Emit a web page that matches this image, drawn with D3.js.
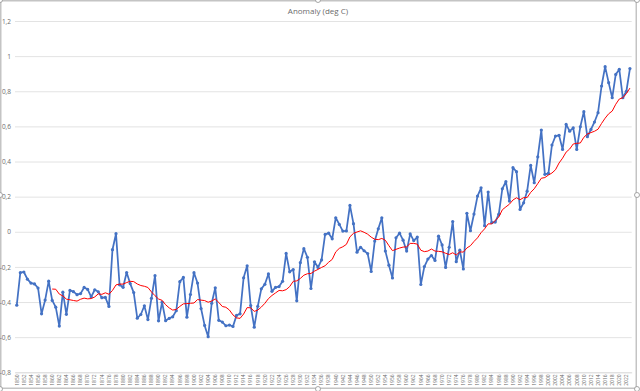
<!DOCTYPE html>
<html>
<head>
<meta charset="utf-8">
<script src="https://cdn.jsdelivr.net/npm/d3@7"></script>
<style>
  body { margin: 0; background: #fff; }
  svg text { font-family: "Open Sans", "Liberation Sans", sans-serif; fill: #6b6b6b; }
</style>
</head>
<body>
<div id="chart"></div>
<script>
// annual anomaly, deg C, 1850 .. 2023
var firstYear = 1850;
var anomaly = [
  -0.418, -0.233, -0.229, -0.270, -0.292, -0.297, -0.320, -0.467, -0.389, -0.281, // 1850
  -0.391, -0.429, -0.537, -0.344, -0.470, -0.334, -0.341, -0.358, -0.352, -0.317, // 1860
  -0.328, -0.371, -0.330, -0.342, -0.375, -0.374, -0.425, -0.102, -0.011, -0.302, // 1870
  -0.316, -0.232, -0.295, -0.346, -0.492, -0.471, -0.421, -0.500, -0.379, -0.250, // 1880
  -0.507, -0.401, -0.506, -0.493, -0.484, -0.449, -0.284, -0.260, -0.486, -0.357, // 1890
  -0.233, -0.292, -0.437, -0.533, -0.597, -0.407, -0.319, -0.504, -0.514, -0.535, // 1900
  -0.531, -0.539, -0.476, -0.467, -0.262, -0.194, -0.420, -0.543, -0.424, -0.325, // 1910
  -0.299, -0.240, -0.339, -0.317, -0.312, -0.282, -0.123, -0.228, -0.215, -0.393, // 1920
  -0.176, -0.096, -0.145, -0.323, -0.171, -0.203, -0.160, -0.015, -0.008, -0.040, // 1930
   0.080,  0.042,  0.004,  0.005,  0.150,  0.046, -0.116, -0.088, -0.108, -0.124, // 1940
  -0.226, -0.053,  0.017,  0.080, -0.110, -0.190, -0.263, -0.034, -0.008, -0.048, // 1950
  -0.110, -0.012, -0.050, -0.030, -0.300, -0.198, -0.155, -0.135, -0.163, -0.025, // 1960
  -0.075, -0.203, -0.088,  0.058, -0.170, -0.105, -0.212,  0.105,  0.006,  0.101, // 1970
   0.203,  0.250,  0.035,  0.226,  0.052,  0.055,  0.100,  0.245,  0.285,  0.175, // 1980
   0.365,  0.342,  0.127,  0.165,  0.231,  0.378,  0.279,  0.427,  0.579,  0.327, // 1990
   0.332,  0.494,  0.545,  0.549,  0.469,  0.611,  0.573,  0.592,  0.469,  0.598, // 2000
   0.684,  0.541,  0.583,  0.625,  0.678,  0.830,  0.940,  0.849,  0.763,  0.896, // 2010
   0.925,  0.763,  0.800,  0.929                                                  // 2020
];
var years = anomaly.map(function(d, i) { return firstYear + i; });

// every other year gets a label, like the original axis
var xTickYears = years.filter(function(d, i) { return i % 2 === 0; });
var yTicks = [-0.8, -0.6, -0.4, -0.2, 0, 0.2, 0.4, 0.6, 0.8, 1, 1.2];

// moving average trendline (period 11, trailing), as in the spreadsheet
var maPeriod = 11;

var pwidth = 640, pheight = 391;
var plot = {left: 15, right: 631.7, top: 21, bottom: 372.3};

var svg = d3.select("#chart").append("svg")
    .attr("width", pwidth)
    .attr("height", pheight);

// chart area frame
svg.append("rect")
    .attr("x", 0.75).attr("y", 0.75)
    .attr("width", 635.5).attr("height", 387.5)
    .attr("fill", "#fff")
    .attr("stroke", "#c4c4c4")
    .attr("stroke-width", 1.5);

var xScale = d3.scaleBand()
    .domain(years)
    .range([plot.left, plot.right]);

var yScale = d3.scaleLinear()
    .domain([-0.8, 1.2])
    .range([plot.bottom, plot.top]);

function xPos(year) { return xScale(year) + xScale.bandwidth() / 2; }

// y axis with gridlines
var yAxis = svg.append("g")
    .attr("transform", "translate(" + plot.left + ",0)")
    .call(d3.axisLeft(yScale)
        .tickValues(yTicks)
        .tickSize(-(plot.right - plot.left))
        .tickPadding(4)
        .tickFormat(function(d) { return String(d).replace(".", ","); }));
yAxis.select(".domain").remove();
yAxis.selectAll(".tick line").attr("stroke", "#d9d9d9").attr("stroke-width", 0.75);
yAxis.selectAll(".tick text").attr("font-size", "6.5px");

// x axis, rotated year labels
var xAxis = svg.append("g")
    .attr("transform", "translate(0," + plot.bottom + ")")
    .call(d3.axisBottom(xScale).tickValues(xTickYears).tickSize(0));
xAxis.select(".domain").attr("stroke", "#d9d9d9").attr("stroke-width", 0.75);
xAxis.selectAll(".tick text")
    .attr("font-size", "5px")
    .attr("text-anchor", "end")
    .attr("transform", "rotate(-90)")
    .attr("x", -2)
    .attr("y", 0)
    .attr("dy", "0.35em");

// title
svg.append("text")
    .attr("x", 318)
    .attr("y", 14)
    .attr("text-anchor", "middle")
    .attr("font-size", "8px")
    .text("Anomaly (deg C)");

// series
var dataset = anomaly.map(function(d, i) { return {year: years[i], y: d}; });

var line = d3.line()
    .x(function(d) { return xPos(d.year); })
    .y(function(d) { return yScale(d.y); });

svg.append("path")
    .datum(dataset)
    .attr("fill", "none")
    .attr("stroke", "#4472c4")
    .attr("stroke-width", 1.75)
    .attr("stroke-linejoin", "round")
    .attr("d", line);

svg.append("g").selectAll("circle")
    .data(dataset)
    .join("circle")
    .attr("cx", function(d) { return xPos(d.year); })
    .attr("cy", function(d) { return yScale(d.y); })
    .attr("r", 1.6)
    .attr("fill", "#4472c4");

// trendline
var trend = [];
for (var i = maPeriod - 1; i < anomaly.length; i++) {
    trend.push({year: years[i], y: d3.mean(anomaly.slice(i - maPeriod + 1, i + 1))});
}
svg.append("path")
    .datum(trend)
    .attr("fill", "none")
    .attr("stroke", "#ff0000")
    .attr("stroke-width", 1)
    .attr("d", line);

// selection handles of the chart area
var handles = [[0, 0], [318, 0], [637, 0], [0, 195], [637, 195], [0, 389], [318, 389], [637, 389]];
svg.append("g").selectAll("circle")
    .data(handles)
    .join("circle")
    .attr("cx", function(d) { return d[0]; })
    .attr("cy", function(d) { return d[1]; })
    .attr("r", 2.5)
    .attr("fill", "#fff")
    .attr("stroke", "#8c8c8c")
    .attr("stroke-width", 0.75);
</script>
</body>
</html>
